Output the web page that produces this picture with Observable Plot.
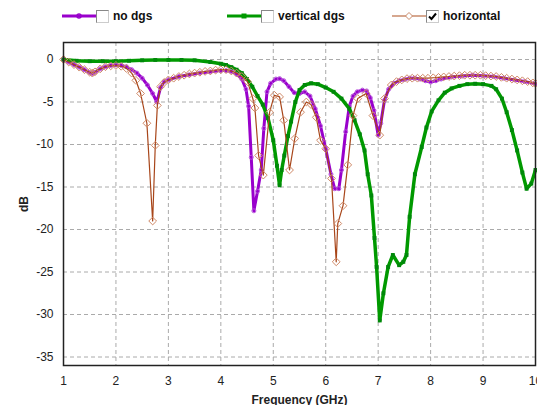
<!DOCTYPE html>
<html><head><meta charset="utf-8">
<script src="https://cdn.jsdelivr.net/npm/d3@7"></script>
<script src="https://cdn.jsdelivr.net/npm/@observablehq/plot@0.6"></script>
<style>
html,body{margin:0;padding:0;background:#fff;}
#wrap{position:relative;width:537px;height:405px;overflow:hidden;font-family:"Liberation Sans",Arial,sans-serif;}
#legend{position:relative;height:30px;}
.item{position:absolute;top:9px;height:14px;display:flex;align-items:center;font-weight:bold;font-size:12px;color:#111;}
.box{width:11px;height:11px;border:1px solid #888;border-right-color:#ccc;border-bottom-color:#ccc;background:#fff;margin-right:4px;position:relative;}
.box svg{position:absolute;left:1px;top:1px;}
</style>
</head><body>
<div id="wrap"><div id="legend"></div><div id="chart"></div></div>
<script>
const seriesNames = ["no dgs", "vertical dgs", "horizontal"];
const seriesChecked = [false, false, true];
const xTicks = [1,2,3,4,5,6,7,8,9,10];
const yTicks = [0,-5,-10,-15,-20,-25,-30,-35];

const freqNoDgs = [1.0,1.1,1.2,1.3,1.4,1.5,1.55,1.6,1.7,1.8,1.9,2.0,2.1,2.2,2.3,2.4,2.5,2.6,2.7,2.78,2.85,2.92,3.0,3.2,3.4,3.6,3.8,4.0,4.1,4.2,4.3,4.4,4.48,4.53,4.58,4.63,4.7,4.77,4.82,4.88,4.95,5.05,5.12,5.2,5.3,5.4,5.5,5.6,5.7,5.8,5.9,6.0,6.1,6.17,6.25,6.3,6.38,6.45,6.52,6.6,6.7,6.78,6.85,6.92,7.0,7.05,7.12,7.2,7.3,7.4,7.5,7.6,7.7,7.8,7.9,8.0,8.1,8.2,8.4,8.6,8.8,9.0,9.2,9.4,9.6,9.8,10.0];
const dbNoDgs = [0,-0.3,-0.6,-0.9,-1.2,-1.55,-1.65,-1.5,-1.1,-0.85,-0.7,-0.65,-0.7,-0.85,-1.2,-1.6,-2.2,-3.0,-4.0,-5.0,-3.3,-2.6,-2.4,-2.0,-1.8,-1.6,-1.45,-1.3,-1.3,-1.4,-1.7,-2.3,-3.5,-5.5,-11.5,-17.8,-15.5,-13.0,-8.1,-3.8,-2.8,-2.3,-2.25,-2.5,-3.2,-3.9,-4.0,-3.8,-4.3,-5.8,-7.8,-10.5,-13.5,-15.2,-15.2,-13.0,-8.5,-5.5,-4.3,-3.8,-3.6,-3.7,-4.5,-6.0,-8.9,-7.5,-4.8,-3.5,-2.8,-2.5,-2.35,-2.2,-2.2,-2.3,-2.5,-2.65,-2.5,-2.3,-2.05,-1.95,-1.85,-1.9,-2.0,-2.2,-2.4,-2.6,-2.85];

const freqVertical = [1.0,1.25,1.5,1.75,2.0,2.25,2.5,2.75,3.0,3.25,3.5,3.8,4.0,4.1,4.2,4.3,4.4,4.5,4.6,4.7,4.8,4.9,5.0,5.07,5.12,5.16,5.21,5.28,5.34,5.42,5.5,5.6,5.72,5.85,6.0,6.15,6.3,6.45,6.55,6.65,6.74,6.8,6.87,6.93,6.97,7.03,7.1,7.19,7.28,7.4,7.48,7.54,7.6,7.7,7.83,7.92,8.02,8.15,8.27,8.4,8.55,8.7,8.85,9.0,9.16,9.25,9.36,9.45,9.55,9.65,9.75,9.83,9.92,10.0];
const dbVertical = [0,-0.15,-0.2,-0.2,-0.2,-0.15,-0.1,-0.05,-0.05,-0.05,-0.1,-0.3,-0.5,-0.65,-0.9,-1.2,-1.6,-2.3,-3.2,-4.3,-5.3,-6.9,-9.5,-12.5,-14.8,-13.0,-11.3,-9.0,-7.3,-5.0,-3.6,-3.0,-2.8,-2.9,-3.3,-3.8,-4.6,-5.8,-7.15,-8.8,-10.7,-13.5,-16.0,-21.0,-24.4,-30.7,-27.5,-24.4,-23.0,-24.2,-23.8,-23.0,-18.5,-13.5,-10.3,-8.0,-6.1,-4.8,-3.9,-3.4,-3.1,-2.9,-2.85,-2.9,-3.1,-3.5,-4.6,-6.2,-8.3,-10.7,-13.3,-15.2,-14.6,-13.0];

const freqHorizontal = [1.0,1.1,1.2,1.3,1.4,1.5,1.55,1.6,1.7,1.8,1.9,2.0,2.1,2.2,2.3,2.38,2.47,2.59,2.7,2.75,2.79,2.85,2.92,3.0,3.1,3.2,3.3,3.4,3.5,3.6,3.7,3.8,3.9,4.0,4.1,4.2,4.3,4.4,4.51,4.61,4.65,4.72,4.81,4.93,5.02,5.12,5.2,5.31,5.41,5.52,5.63,5.72,5.82,5.9,6.0,6.11,6.2,6.23,6.33,6.42,6.52,6.61,6.77,6.9,7.03,7.12,7.25,7.35,7.45,7.55,7.65,7.75,7.85,7.95,8.05,8.15,8.25,8.35,8.45,8.55,8.65,8.75,8.85,8.95,9.05,9.15,9.25,9.35,9.45,9.55,9.65,9.75,9.85,9.95,10.0];
const dbHorizontal = [0,-0.3,-0.6,-0.9,-1.2,-1.5,-1.6,-1.45,-1.1,-0.85,-0.75,-0.7,-0.8,-1.05,-1.6,-2.45,-4.0,-7.5,-19.0,-10.1,-5.4,-3.2,-2.7,-2.4,-2.2,-2.0,-1.85,-1.7,-1.6,-1.5,-1.4,-1.35,-1.25,-1.2,-1.2,-1.35,-1.6,-2.0,-2.6,-4.6,-5.7,-11.3,-13.6,-6.2,-4.2,-4.4,-7.15,-13.0,-9.3,-6.2,-5.0,-5.3,-6.8,-9.5,-10.5,-14.0,-23.8,-19.3,-17.2,-12.4,-6.6,-4.6,-4.0,-6.6,-8.9,-4.6,-3.0,-2.6,-2.4,-2.25,-2.2,-2.2,-2.2,-2.2,-2.15,-2.1,-2.05,-2.0,-1.95,-1.9,-1.85,-1.85,-1.85,-1.85,-1.9,-1.95,-2.0,-2.1,-2.2,-2.3,-2.4,-2.5,-2.6,-2.75,-2.8];

const colors = {noLine:"#9900cc", noDot:"#b54ddb", vLine:"#009900", vDot:"#00880a", hLine:"#a8461a", hDot:"#cf8866"};
const legendColors = [colors.noLine, colors.vLine, "#c98a6a"];
const legendLeft = [62, 227, 392];

const noDgs = freqNoDgs.map((f,i)=>({f, db: dbNoDgs[i]}));
const vertical = freqVertical.map((f,i)=>({f, db: dbVertical[i]}));
const horizontal = freqHorizontal.map((f,i)=>({f, db: dbHorizontal[i]}));

// Legend
const legend = document.getElementById("legend");
seriesNames.forEach((name, i) => {
  const item = document.createElement("div");
  item.className = "item";
  item.style.left = legendLeft[i] + "px";
  const w = 34;
  const lw = i === 2 ? 1.5 : 3;
  let marker = "";
  if (i === 0) marker = `<circle cx="17" cy="7" r="2" fill="none" stroke="${legendColors[0]}" stroke-width="1.5"/>`;
  if (i === 1) marker = `<rect x="14.5" y="4.5" width="5" height="5" fill="${legendColors[1]}"/>`;
  if (i === 2) marker = `<path d="M17,3.5 L20.5,7 L17,10.5 L13.5,7 Z" fill="#fff" stroke="${legendColors[2]}" stroke-width="1"/>`;
  const check = seriesChecked[i] ? `<svg width="9" height="9"><path d="M1,4.5 L3.5,7 L8,1.5" fill="none" stroke="#000" stroke-width="2"/></svg>` : "";
  item.innerHTML = `<svg width="${w}" height="14"><line x1="0" x2="${w}" y1="7" y2="7" stroke="${legendColors[i]}" stroke-width="${lw}"/>${marker}</svg><div class="box">${check}</div><span>${name}</span>`;
  legend.appendChild(item);
});

const grid = {stroke: "#aaa", strokeDasharray: "4,3", strokeWidth: 1};
const chart = Plot.plot({
  width: 537,
  height: 375,
  marginTop: 12,
  marginBottom: 40,
  marginLeft: 63,
  marginRight: 2,
  style: {fontFamily: "'Liberation Sans', Arial, sans-serif", fontSize: "12px", color: "#222", background: "#fff"},
  x: {domain: [1, 10], ticks: xTicks, tickFormat: d => String(d), tickSize: 0, tickPadding: 11, label: null},
  y: {domain: [-36, 2], ticks: yTicks, tickFormat: d => String(d), tickSize: 0, tickPadding: 10, label: null},
  marks: [
    Plot.ruleX(xTicks.slice(1, -1), {...grid}),
    Plot.ruleY(yTicks, {...grid}),
    Plot.line(noDgs, {x: "f", y: "db", stroke: colors.noLine, strokeWidth: 3}),
    Plot.dot(noDgs, {x: "f", y: "db", r: 2, stroke: colors.noDot, strokeWidth: 1, fill: "none"}),
    Plot.line(vertical, {x: "f", y: "db", stroke: colors.vLine, strokeWidth: 3.5}),
    Plot.dot(vertical, {x: "f", y: "db", symbol: "square", r: 2.2, fill: colors.vDot, stroke: "none"}),
    Plot.line(horizontal, {x: "f", y: "db", stroke: colors.hLine, strokeWidth: 1.2}),
    Plot.dot(horizontal, {x: "f", y: "db", symbol: "diamond2", r: 3.5, stroke: colors.hDot, strokeWidth: 1, fill: "none"}),
    Plot.frame({stroke: "#222", strokeWidth: 1.5}),
    Plot.axisX({ticks: xTicks, tickFormat: d => String(d), tickSize: 0, tickPadding: 11, label: "Frequency (GHz)", labelAnchor: "center", labelArrow: "none", labelOffset: 38, fontSize: 12}),
    Plot.axisY({ticks: yTicks, tickFormat: d => String(d), tickSize: 0, tickPadding: 10, label: "dB", labelAnchor: "center", labelOffset: 44, labelArrow: "none", fontSize: 12})
  ]
});
chart.querySelectorAll("[aria-label='x-axis label'] text, [aria-label='y-axis label'] text").forEach(t => { t.setAttribute("font-weight", "bold"); t.setAttribute("font-size", "12"); });
document.getElementById("chart").appendChild(chart);
</script>
</body></html>
